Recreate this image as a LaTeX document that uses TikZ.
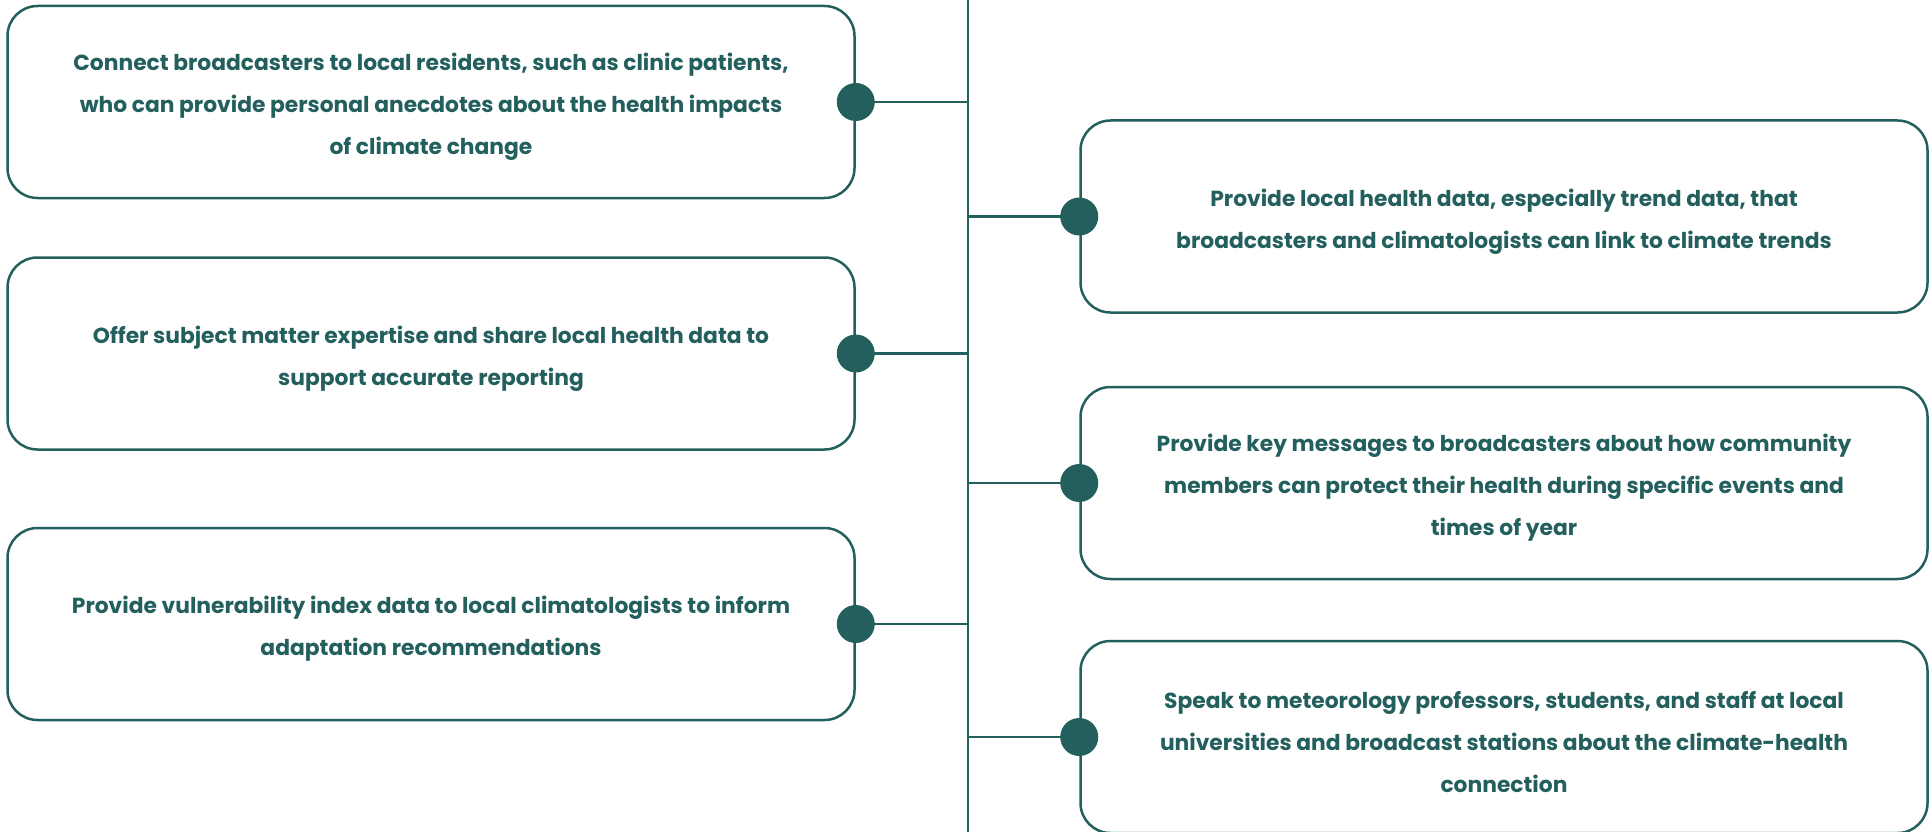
\documentclass[tikz,border=0pt]{standalone}
\usepackage{fontspec}
\setmainfont{Poppins}
\definecolor{teal1}{HTML}{225F5D}
\begin{document}
\begin{tikzpicture}[x=1pt,y=-1pt,
  box/.style={draw=teal1, line width=2.5pt, rounded corners=30pt, minimum width=847pt, minimum height=192pt, inner sep=0pt},
  txt/.style={align=center, text=teal1, font=\fontsize{21.8}{42}\selectfont\bfseries, inner sep=0pt},
  dot/.style={circle, fill=teal1, minimum size=38pt, inner sep=0pt},
  conn/.style={draw=teal1, line width=2.5pt}]
\useasboundingbox (0,0) rectangle (1929,832);
\node[box] (l1) at (431,102) {};
\node[box] (l2) at (431,353.5) {};
\node[box] (l3) at (431,624) {};
\node[box] (r1) at (1504,216.5) {};
\node[box] (r2) at (1504,483) {};
\node[box] (r3) at (1504,737) {};
\node[txt] (l1t) at ([yshift=-5pt]l1.center) {Connect broadcasters to local residents, such as clinic patients,\\who can provide personal anecdotes about the health impacts\\of climate change};
\node[txt] (l2t) at ([yshift=-5pt]l2.center) {Offer subject matter expertise and share local health data to\\support accurate reporting};
\node[txt] (l3t) at ([yshift=-5pt]l3.center) {Provide vulnerability index data to local climatologists to inform\\adaptation recommendations};
\node[txt] (r1t) at ([yshift=-5pt]r1.center) {Provide local health data, especially trend data, that\\broadcasters and climatologists can link to climate trends};
\node[txt] (r2t) at ([yshift=-5pt]r2.center) {Provide key messages to broadcasters about how community\\members can protect their health during specific events and\\times of year};
\node[txt] (r3t) at ([yshift=-5pt]r3.center) {Speak to meteorology professors, students, and staff at local\\universities and broadcast stations about the climate-health\\connection};
\coordinate (top) at (968,-2);
\coordinate (bot) at (968,834);
\draw[conn] (top) -- (bot);
\foreach \n in {l1,l2,l3} {
  \node[dot] (d\n) at (\n.east) {};
  \draw[conn] (d\n.center) -- (d\n.center -| top);
}
\foreach \n in {r1,r2,r3} {
  \node[dot] (d\n) at (\n.west) {};
  \draw[conn] (d\n.center) -- (d\n.center -| top);
}
\end{tikzpicture}
\end{document}
